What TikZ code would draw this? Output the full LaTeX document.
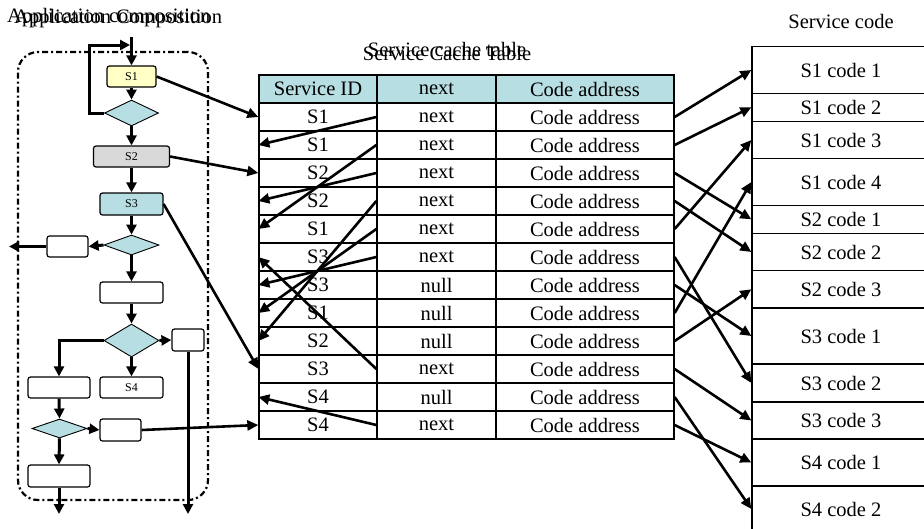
\documentclass[tikz,border=0pt]{standalone}
\usepackage{fontspec}
\setmainfont{Liberation Serif}
\usetikzlibrary{arrows.meta,shapes.geometric}
\definecolor{tealfill}{HTML}{B7DEE2}
\definecolor{ylwfill}{HTML}{FFFFC6}
\definecolor{gryfill}{HTML}{D9D9D9}
\begin{document}
\begin{tikzpicture}[x=1pt,y=-1pt,
  cell/.style={draw, line width=1.3pt, inner sep=0pt, minimum height=28pt, font=\fontsize{20.5}{22}\selectfont},
  codebox/.style={draw, line width=1.3pt, inner sep=0pt, minimum width=178pt, font=\fontsize{20.5}{22}\selectfont},
  fbox/.style={draw, line width=1.2pt, rounded corners=2.5pt, inner sep=0pt, font=\fontsize{12}{12}\selectfont},
  dia/.style={draw, diamond, aspect=2, line width=0.9pt, fill=tealfill, inner sep=0pt},
  farrow/.style={line width=3pt, -{Triangle[length=10pt,width=10pt]}},
  tarrow/.style={line width=2.6pt, -{Triangle[length=11pt,width=10pt]}},
  titletext/.style={font=\fontsize{20.5}{22}\selectfont, inner sep=0pt}
]
\useasboundingbox (0,0) rectangle (924,528);
\clip (0,0) rectangle (924,528);

% titles
\node[titletext, anchor=base west] (t1a) at (7,22) {Application composition};
\node[titletext, anchor=base west] (t1b) at (14,23.5) {Application Composition};
\node[titletext, anchor=base] (t2a) at (447,56) {Service cache table};
\node[titletext, anchor=base] (t2b) at (447,60) {Service Cache Table};
\node[titletext, anchor=base] (t3) at (841,28) {Service code};

% container
\node[draw, line width=2.2pt, dash pattern=on 6pt off 3pt on 2pt off 3pt, rounded corners=20pt,
      minimum width=190pt, minimum height=448pt, inner sep=0pt] (cont) at (113,276) {};

% flowchart nodes
\node[fbox, fill=ylwfill, minimum width=49pt, minimum height=21pt] (S1) at (131.5,76.5) {S1};
\node[dia, minimum width=54pt, minimum height=26pt] (d1) at (131.5,113) {};
\node[fbox, fill=gryfill, minimum width=76pt, minimum height=21pt] (S2) at (131.5,156.5) {S2};
\node[fbox, fill=tealfill, minimum width=63pt, minimum height=22pt] (S3) at (131.5,204) {S3};
\node[dia, minimum width=55pt, minimum height=20pt] (d2) at (131.5,245) {};
\node[fbox, minimum width=41pt, minimum height=21pt] (b1) at (67.5,246.5) {};
\node[fbox, minimum width=63pt, minimum height=21pt] (b2) at (131.5,292.5) {};
\node[dia, minimum width=55pt, minimum height=33pt] (d3) at (131.5,340.5) {};
\node[fbox, minimum width=32pt, minimum height=22pt] (b4) at (188,340) {};
\node[fbox, minimum width=62pt, minimum height=21pt] (b5) at (59,387.5) {};
\node[fbox, minimum width=63pt, minimum height=21pt] (S4) at (131.5,387.5) {S4};
\node[dia, minimum width=55pt, minimum height=19pt] (d4) at (59.5,428.5) {};
\node[fbox, minimum width=41pt, minimum height=22pt] (b6) at (120.5,430) {};
\node[fbox, minimum width=62pt, minimum height=22pt] (b7) at (59,476) {};

\coordinate (top) at (131.5,37);
\coordinate (loopend) at (130,45);
\coordinate (exitL) at (9,246.5);
\coordinate (exitB1) at (59,514);
\coordinate (exitB2) at (188,514);

% flowchart connectors
\draw[farrow] (top) -- (S1.north);
\draw[farrow] (d1.west) -- ++(-15,0) |- (loopend);
\draw[farrow] (S1.south) -- (d1.north);
\draw[farrow] (d1.south) -- (S2.north);
\draw[farrow] (S2.south) -- (S3.north);
\draw[farrow] (S3.south) -- (d2.north);
\draw[farrow] (d2.west) -- (b1.east);
\draw[farrow] (b1.west) -- (exitL);
\draw[farrow] (d2.south) -- (b2.north);
\draw[farrow] (b2.south) -- (d3.north);
\draw[farrow] (d3.east) -- (b4.west);
\draw[farrow] (d3.west) -| (b5.north);
\draw[farrow] (d3.south) -- (S4.north);
\draw[farrow] (b5.south) -- (d4.north);
\draw[farrow] (d4.east) -- (b6.west);
\draw[farrow] (d4.south) -- (b7.north);
\draw[farrow] (b7.south) -- (exitB1);
\draw[farrow] (b4.south) -- (exitB2);

% table header
\node[cell, fill=tealfill, minimum width=118pt] (idh) at (318,89) {Service ID};
\node[cell, fill=tealfill, minimum width=119pt] (nxh) at (436.5,89) {next};
\node[cell, fill=tealfill, minimum width=178pt] (cah) at (585,89) {Code address};
% table rows
\foreach \i/\s/\n in {1/S1/next,2/S1/next,3/S2/next,4/S2/next,5/S1/next,6/S3/next,
                      7/S3/null,8/S1/null,9/S2/null,10/S3/next,11/S4/null,12/S4/next} {
  \node[cell, minimum width=118pt] (id\i) at (318,89+28*\i) {\s};
  \node[cell, minimum width=119pt] (nx\i) at (436.5,89+28*\i) {\n};
  \node[cell, minimum width=178pt] (ca\i) at (585,89+28*\i) {Code address};
}

% service code boxes
\node[codebox, minimum height=46.6pt] (c1) at (841,70) {S1 code 1};
\node[codebox, minimum height=28pt] (c2) at (841,107.3) {S1 code 2};
\node[codebox, minimum height=37.4pt] (c3) at (841,140) {S1 code 3};
\node[codebox, minimum height=46.6pt] (c4) at (841,182) {S1 code 4};
\node[codebox, minimum height=28pt] (c5) at (841,219.3) {S2 code 1};
\node[codebox, minimum height=37.4pt] (c6) at (841,252) {S2 code 2};
\node[codebox, minimum height=37.3pt] (c7) at (841,289.3) {S2 code 3};
\node[codebox, minimum height=56pt] (c8) at (841,336) {S3 code 1};
\node[codebox, minimum height=38pt] (c9) at (841,383) {S3 code 2};
\node[codebox, minimum height=37pt] (c10) at (841,420.5) {S3 code 3};
\node[codebox, minimum height=47pt] (c11) at (841,462.5) {S4 code 1};
\node[codebox, minimum height=46pt] (c12) at (841,509) {S4 code 2};

% flowchart to table
\draw[tarrow] (S1.east) -- (id1.west);
\draw[tarrow] (S2.east) -- (id3.west);
\draw[tarrow] (S3.east) -- (id10.west);
\draw[tarrow] (b6.east) -- (id12.west);

% next pointers
\foreach \a/\b in {1/2,2/5,3/4,4/9,5/8,6/7,10/6,12/11}
  \draw[tarrow] (nx\a.west) -- (id\b.west);

% code address pointers
\foreach \a/\b in {1/1,2/2,3/5,4/6,5/3,6/9,7/8,8/4,9/7,10/10,11/12,12/11}
  \draw[tarrow] (ca\a.east) -- (c\b.west);
\end{tikzpicture}
\end{document}
